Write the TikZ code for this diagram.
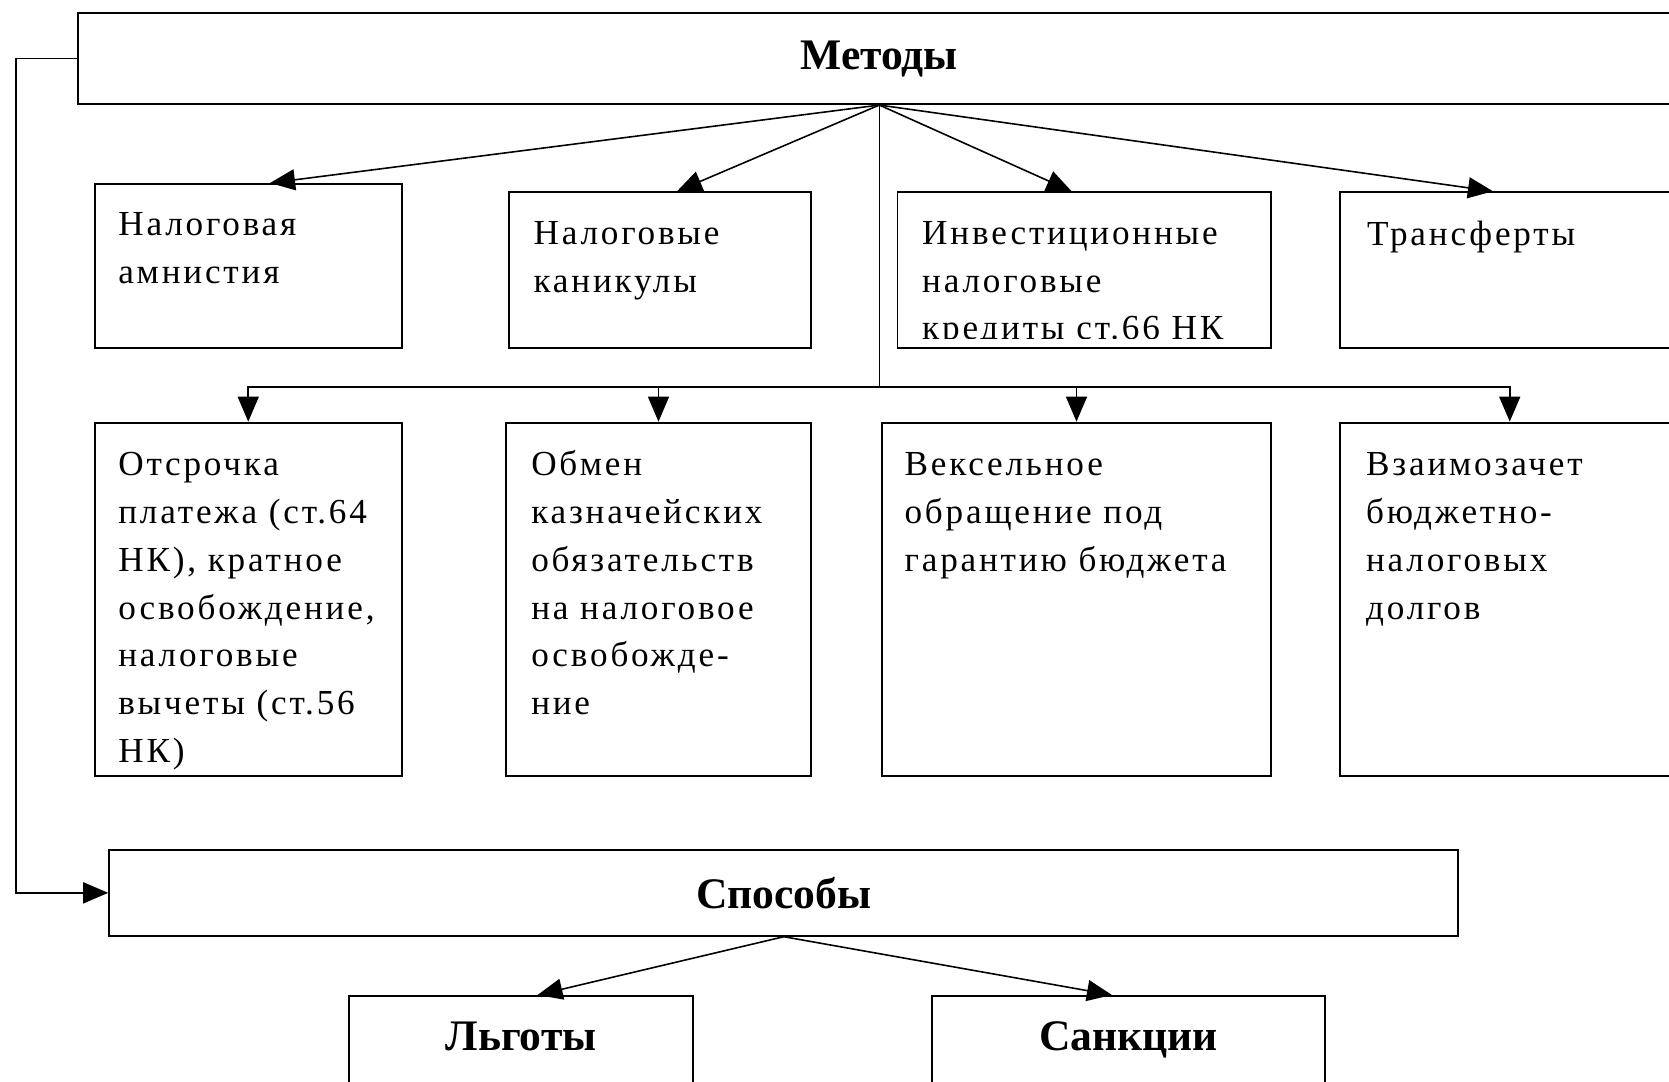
\documentclass[tikz,border=0pt]{standalone}
\usepackage{fontspec}
\setmainfont{Liberation Serif}
\newfontfamily\boxfont[LetterSpace=8]{Liberation Serif}
\usetikzlibrary{arrows.meta,calc,positioning}

\tikzset{
  box/.style={draw, line width=0.55pt, rectangle, inner sep=0pt},
  head/.style={draw, line width=0.55pt, rectangle, inner sep=0pt,
    font=\bfseries\fontsize{12.4pt}{15pt}\selectfont},
  boxtext/.style={anchor=base west, inner sep=0pt, text width=3.8cm, align=left,
    font=\boxfont\fontsize{10pt}{13.6pt}\selectfont},
  arr/.style={line width=0.45pt, -{Triangle[length=2.5mm,width=2.1mm]}},
  bus/.style={line width=0.45pt},
}

\begin{document}
\begin{tikzpicture}[x=0.01cm, y=-0.01cm]
\useasboundingbox (0,0) rectangle (1669,1081);
\clip (0,0) rectangle (1669,1081);

% headings
\node[head, minimum width=16.014cm, minimum height=0.907cm] (M) at (879.3,58.7) {Методы};
\node[head, minimum width=13.484cm, minimum height=0.857cm] (S) at (783.8,892.85) {Способы};
\node[head, anchor=north, minimum width=3.44cm, text height=5.4mm, text depth=4.8mm] (L) at (521,995) {Льготы};
\node[head, anchor=north, minimum width=3.93cm, text height=5.4mm, text depth=4.8mm] (K) at (1128.5,995) {Санкции};

% first row
\node[box, minimum width=3.071cm, minimum height=1.643cm] (b1) at (248.25,266.15) {};
\node[box, minimum width=3.02cm, minimum height=1.56cm] (b2) at (660,270.3) {};
\node[box, minimum width=3.734cm, minimum height=1.56cm] (b3) at (1084.3,270.3) {};
\node[box, minimum width=3.385cm, minimum height=1.56cm] (b4) at (1509.75,270.3) {};

\node[boxtext] (t1) at ($(b1.north west)+(24,53)$) {Налоговая\\амнистия};
\node[boxtext] (t2) at ($(b2.north west)+(25,53)$) {Налоговые\\каникулы};
\begin{scope}
  \clip (b3.north west) rectangle ($(b3.south east)+(0,-11)$);
  \node[boxtext] (t3) at ($(b3.north west)+(25,53)$) {Инвестиционные\\налоговые\\кредиты ст.66 НК};
\end{scope}
\node[boxtext] (t4) at ($(b4.north west)+(27,54)$) {Трансферты};

% second row
\node[box, minimum width=3.071cm, minimum height=3.533cm] (c1) at (248.25,599.35) {};
\node[box, minimum width=3.05cm, minimum height=3.533cm] (c2) at (658.5,599.35) {};
\node[box, minimum width=3.89cm, minimum height=3.533cm] (c3) at (1076.5,599.35) {};
\node[box, minimum width=3.385cm, minimum height=3.533cm] (c4) at (1509.75,599.35) {};

\node[boxtext] (u1) at ($(c1.north west)+(24,54)$) {Отсрочка\\платежа (ст.64\\НК), кратное\\освобождение,\\налоговые\\вычеты (ст.56\\НК)};
\node[boxtext] (u2) at ($(c2.north west)+(25.6,54)$) {Обмен\\казначейских\\обязательств\\на налоговое\\освобожде-\\ние};
\node[boxtext] (u3) at ($(c3.north west)+(23,54)$) {Вексельное\\обращение под\\гарантию бюджета};
\node[boxtext] (u4) at ($(c4.north west)+(26,54)$) {Взаимозачет\\бюджетно-\\налоговых\\долгов};

% connectors
\coordinate (hub) at (879.3,387);
\coordinate (lp) at (16,58.7);
\draw[arr] (M.south) -- ([xshift=0.2175cm]b1.north);
\draw[arr] (M.south) -- ([xshift=0.17cm]b2.north);
\draw[arr] (M.south) -- ([xshift=-0.127cm]b3.north);
\draw[arr] (M.south) -- ([xshift=-0.1675cm]b4.north);
\draw[bus] (M.south) -- (hub);
\foreach \n in {c1,c2,c3,c4}
  \draw[arr] (hub) -| (\n.north);
\draw[arr] (M.west) -- (lp) |- (S.west);
\draw[arr] (S.south) -- ([xshift=0.165cm]L.north);
\draw[arr] (S.south) -- ([xshift=-0.165cm]K.north);
\end{tikzpicture}
\end{document}
